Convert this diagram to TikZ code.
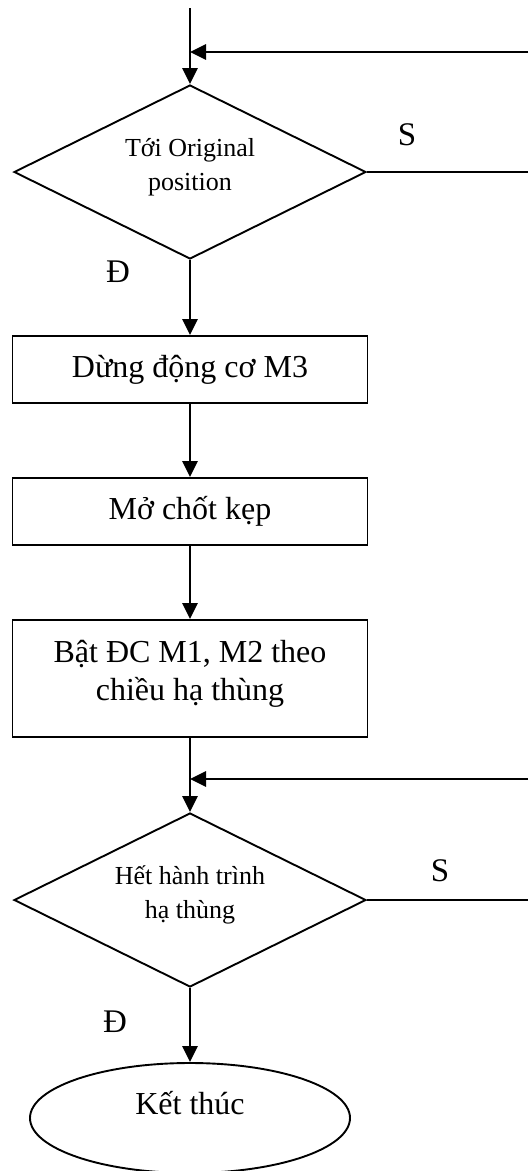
\documentclass[tikz,border=0pt]{standalone}
\usepackage{fontspec}
\setmainfont{Liberation Serif}
\usetikzlibrary{shapes.geometric,arrows.meta}
\begin{document}
\begin{tikzpicture}[x=1pt,y=-1pt,
  flow/.style={line width=2.8pt,-{Triangle[length=16pt,width=15pt]}},
  plain/.style={line width=1.8pt},
  proc/.style={draw,line width=1.9pt,minimum width=355pt,inner sep=0pt,
    font=\fontsize{32}{38}\selectfont,align=center},
  oneline/.style={text height=24pt,text depth=8pt},
  decision/.style={draw,diamond,aspect=2,line width=1.9pt,minimum width=352pt,
    minimum height=174pt,inner sep=0pt,font=\fontsize{26}{34}\selectfont,align=center},
  term/.style={draw,ellipse,line width=1.9pt,minimum width=320pt,minimum height=110pt,
    inner sep=0pt,font=\fontsize{32}{38}\selectfont,text depth=31pt},
  lbl/.style={font=\fontsize{33}{38}\selectfont,inner sep=0pt}]
\useasboundingbox (0,0) rectangle (528,1171);

% shapes
\node[decision,text depth=16pt] (d1) at (190,172) {Tới Original\\position};
\node[proc,oneline,minimum height=67pt] (b1) at (190,369.5) {Dừng động cơ M3};
\node[proc,oneline,minimum height=67pt] (b2) at (190,511.5) {Mở chốt kẹp};
\node[proc,minimum height=117pt,text depth=17pt] (b3) at (190,678.5) {Bật ĐC M1, M2 theo\\chiều hạ thùng};
\node[decision,text depth=16pt] (d2) at (190,900) {Hết hành trình\\hạ thùng};
\node[term] (end) at (190,1118) {Kết thúc};

% branch labels
\node[lbl] (s1) at (407,135) {S};
\node[lbl] (y1) at (118,272) {Đ};
\node[lbl] (s2) at (440,871) {S};
\node[lbl] (y2) at (115,1022) {Đ};

% loose ends
\coordinate (start) at (190,8);
\coordinate (r1) at (528,52);
\coordinate (j1) at (190,52);
\coordinate (e1) at (528,172);
\coordinate (r2) at (528,779);
\coordinate (j2) at (190,779);
\coordinate (e2) at (528,900);

% connectors
\draw[flow] (start) -- (d1.north);
\draw[flow] (r1) -- (j1);
\draw[plain] (d1.east) -- (e1);
\draw[flow] (d1.south) -- (b1.north);
\draw[flow] (b1.south) -- (b2.north);
\draw[flow] (b2.south) -- (b3.north);
\draw[flow] (b3.south) -- (d2.north);
\draw[flow] (r2) -- (j2);
\draw[plain] (d2.east) -- (e2);
\draw[flow] (d2.south) -- (end.north);
\end{tikzpicture}
\end{document}
